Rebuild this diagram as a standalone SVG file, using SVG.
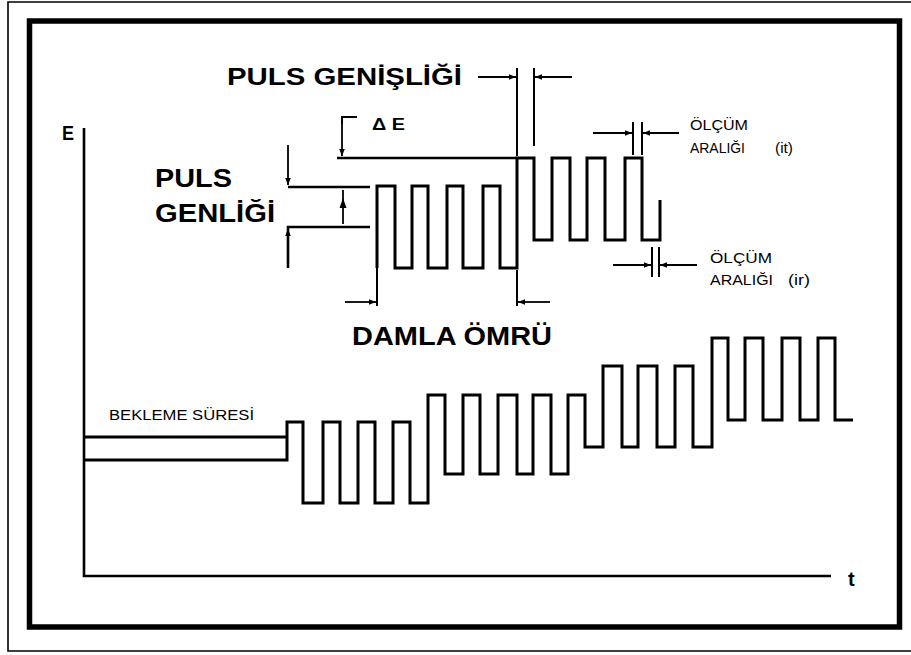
<svg xmlns="http://www.w3.org/2000/svg" width="911" height="655" viewBox="0 0 911 655">
<style>
.frame{fill:none;stroke:#000}
.wave{fill:none;stroke:#000;stroke-width:3;stroke-linejoin:miter}
.ref{fill:none;stroke:#000;stroke-width:2.6}
.dim{fill:none;stroke:#000;stroke-width:1.8}
.ext{fill:none;stroke:#000;stroke-width:2}
.big{font-family:"Liberation Sans",Arial,sans-serif;font-weight:bold;fill:#000}
.small{font-family:"Liberation Sans",Arial,sans-serif;fill:#000}
</style>
<defs>
<marker id="ah" viewBox="0 0 10 10" refX="10" refY="5" markerWidth="4" markerHeight="4" orient="auto" markerUnits="strokeWidth">
<path d="M0,1 L10,5 L0,9 z" fill="#000"/>
</marker>
</defs>
<rect width="911" height="655" fill="#fff"/>
<g id="borders">
<path class="frame" d="M911,2 H8 V651 H911" stroke-width="1.6"/>
<rect class="frame" x="29.5" y="21" width="870" height="606" stroke-width="5.5"/>
</g>
<g id="axes">
<path class="ref" d="M84,128 V576 H831"/>
<text class="big" x="62" y="140" font-size="21" textLength="12" lengthAdjust="spacingAndGlyphs">E</text>
<text class="small" x="848" y="586" font-size="20" font-weight="bold">t</text>
</g>
<g id="upper-waveform">
<path class="ref" d="M288,187 H370 M288,268 V227 H370"/>
<path class="ref" d="M337,158 H517"/>
<path class="wave" d="M377,268 V186 H395 V268 H412 V186 H428 V268 H447 V186 H463 V268 H483 V186 H500 V268 H517 V158 H534 V240 H552 V158 H570 V240 H587 V158 H605 V240 H625 V158 H642 V240 H660 V200"/>
</g>
<g id="lower-waveform">
<path class="wave" d="M84,437 H287 M84,460 H287 V422 H303 V503 H323 V422 H340 V503 H358 V422 H375 V503 H393 V422 H410 V503 H428 V395 H445 V474 H463 V395 H480 V474 H498 V395 H517 V474 H533 V395 H551 V474 H568 V395 H585 V447 H603 V366 H622 V447 H638 V366 H657 V447 H675 V366 H693 V447 H712 V338 H728 V420 H745 V338 H763 V420 H782 V338 H800 V420 H818 V338 H835 V420 H853"/>
</g>
<g id="connectors">
<path class="ext" d="M517,68 V156 M534,68 V146"/>
<path class="dim" d="M478,77 H516" marker-end="url(#ah)"/>
<path class="dim" d="M572,77 H535" marker-end="url(#ah)"/>
<path class="ext" d="M357,117 H342 V124"/>
<path class="dim" d="M342,122 V156" marker-end="url(#ah)"/>
<path class="dim" d="M288,145 V185" marker-end="url(#ah)"/>
<path class="dim" d="M288,262 V229" marker-end="url(#ah)"/>
<path class="dim" d="M343,224 V190"/>
<path d="M343,198 L339.5,208 L346.5,208 z" fill="#000"/>
<path class="ext" d="M377,268 V306 M517,270 V306"/>
<path class="dim" d="M345,302 H376" marker-end="url(#ah)"/>
<path class="dim" d="M550,302 H518" marker-end="url(#ah)"/>
<path class="ext" d="M633,122 V155 M642,122 V155"/>
<path class="dim" d="M593,133 H632" marker-end="url(#ah)"/>
<path class="dim" d="M679,133 H643" marker-end="url(#ah)"/>
<path class="ext" d="M652,247 V277 M659,247 V277"/>
<path class="dim" d="M613,265 H651" marker-end="url(#ah)"/>
<path class="dim" d="M697,265 H660" marker-end="url(#ah)"/>
</g>
<g id="label-puls-genisligi">
<text class="big" x="227" y="85" font-size="24" textLength="235" lengthAdjust="spacingAndGlyphs">PULS GENİŞLİĞİ</text>
</g>
<g id="label-delta-e">
<text class="big" x="372" y="130" font-size="17" textLength="33" lengthAdjust="spacingAndGlyphs">Δ E</text>
</g>
<g id="label-puls-genligi">
<text class="big" x="155" y="187" font-size="26" textLength="77" lengthAdjust="spacingAndGlyphs">PULS</text>
<text class="big" x="155" y="222" font-size="26" textLength="120" lengthAdjust="spacingAndGlyphs">GENLİĞİ</text>
</g>
<g id="label-damla-omru">
<text class="big" x="352" y="345" font-size="25" textLength="200" lengthAdjust="spacingAndGlyphs">DAMLA ÖMRÜ</text>
</g>
<g id="label-olcum-it">
<text class="small" x="690" y="130" font-size="14" textLength="58" lengthAdjust="spacingAndGlyphs">ÖLÇÜM</text>
<text class="small" x="690" y="153" font-size="14" textLength="55" lengthAdjust="spacingAndGlyphs">ARALIĞI</text>
<text class="small" x="775" y="153" font-size="14" textLength="18" lengthAdjust="spacingAndGlyphs">(it)</text>
</g>
<g id="label-olcum-ir">
<text class="small" x="710" y="263" font-size="15" textLength="62" lengthAdjust="spacingAndGlyphs">ÖLÇÜM</text>
<text class="small" x="710" y="285" font-size="15" textLength="63" lengthAdjust="spacingAndGlyphs">ARALIĞI</text>
<text class="small" x="788" y="285" font-size="15" textLength="22" lengthAdjust="spacingAndGlyphs">(ir)</text>
</g>
<g id="label-bekleme">
<text class="small" x="109" y="420" font-size="14" textLength="145" lengthAdjust="spacingAndGlyphs">BEKLEME SÜRESİ</text>
</g>
</svg>
